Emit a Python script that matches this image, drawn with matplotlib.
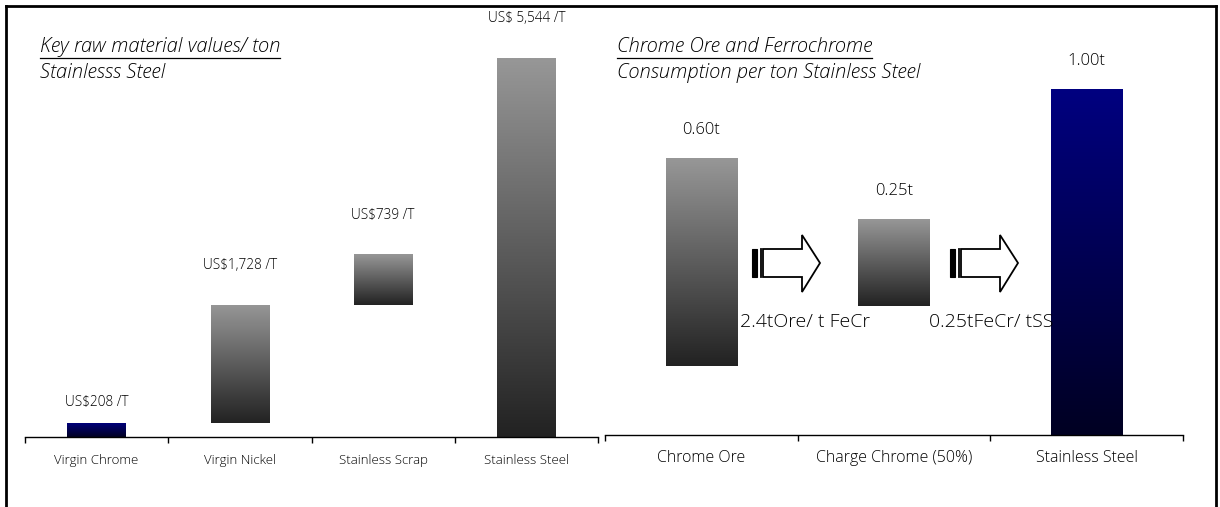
import numpy as np
import matplotlib
matplotlib.use("Agg")
import matplotlib.pyplot as plt
from matplotlib.colors import LinearSegmentedColormap
from matplotlib.patches import Polygon
from matplotlib.lines import Line2D

plt.rcParams['font.family'] = ['Open Sans', 'DejaVu Sans']
plt.rcParams['font.weight'] = 'light'

# raw material values per ton of stainless steel (US$/t)
materials = ["Virgin Chrome", "Virgin Nickel", "Stainless Scrap", "Stainless Steel"]
material_value = [208, 1728, 739, 5544]
material_base = [0, 208, 1936, 0]
material_label = ["US$208 /T", "US$1,728 /T", "US$739 /T", "US$ 5,544 /T"]
material_style = ["blue", "grey", "grey", "grey"]

# chrome units consumed per ton of stainless steel (t)
stages = ["Chrome Ore", "Charge Chrome (50%)", "Stainless Steel"]
stage_value = [0.60, 0.25, 1.00]
stage_base = [0.20, 0.373, 0.0]
stage_label = ["0.60t", "0.25t", "1.00t"]
stage_style = ["grey", "grey", "blue"]
ratio_text = ["2.4tOre/ t FeCr", "0.25tFeCr/ tSS"]

W, H = 1220, 507
INK = "#000000"
fig = plt.figure(figsize=(W / 100, H / 100), dpi=100)

cmaps = {
    "grey": LinearSegmentedColormap.from_list("g", ["#222222", "#979797"]),
    "blue": LinearSegmentedColormap.from_list("b", ["#000022", "#000080"]),
}


def px_rect(x0, x1, y_base, y_top):
    # figure-fraction rectangle from pixel edges (y measured from the top)
    return [x0 / W, (H - y_base) / H, (x1 - x0) / W, (y_base - y_top) / H]


def gradient_bars(ax, values, bases, styles, width):
    xs = np.arange(len(values))
    bars = ax.bar(xs, values, width=width, bottom=bases, color="none",
                  edgecolor="none", zorder=2)
    grad = np.linspace(0, 1, 256).reshape(-1, 1)
    for b, st in zip(bars, styles):
        x0, y0 = b.get_x(), b.get_y()
        im = ax.imshow(grad, extent=[x0, x0 + b.get_width(), y0, y0 + b.get_height()],
                       origin="lower", aspect="auto", cmap=cmaps[st], zorder=2,
                       interpolation="bilinear")
        im.set_clip_path(b)
    return bars


def style_axis(ax, cats, fs, pad):
    n = len(cats)
    for s in ["top", "right", "left"]:
        ax.spines[s].set_visible(False)
    ax.spines["bottom"].set_linewidth(1.0)
    ax.set_yticks([])
    ax.set_xlim(-0.5, n - 0.5)
    ax.set_xticks(np.arange(n))
    ax.set_xticklabels(cats, fontsize=fs, color=INK)
    ax.tick_params(axis="x", which="major", length=0, pad=pad)
    ax.set_xticks(np.arange(n + 1) - 0.5, minor=True)
    ax.tick_params(axis="x", which="minor", length=4, width=1, direction="out")
    ax.patch.set_alpha(0)


def underlined_title(x, y, line1, line2, fs):
    t = fig.text(x / W, 1 - y / H, line1, fontsize=fs, style="italic",
                 color=INK, va="baseline")
    fig.canvas.draw()
    bb = t.get_window_extent()
    uy = bb.y0 - 1
    fig.add_artist(Line2D([bb.x0 / W, bb.x1 / W], [uy / H, uy / H], color=INK, lw=0.9))
    fig.text(x / W, 1 - (y + 26) / H, line2, fontsize=fs, style="italic",
             color=INK, va="baseline")


# left panel: value build-up
axL = fig.add_axes(px_rect(25, 598, 437, 7))
gradient_bars(axL, material_value, material_base, material_style, 0.41)
scaleL = (437 - 58) / material_value[3]
axL.set_ylim(0, (437 - 7) / scaleL)
style_axis(axL, materials, 9.5, 12)
for i, (v, b, lab) in enumerate(zip(material_value, material_base, material_label)):
    off = 20 if i == 0 else 39
    axL.annotate(lab, (i, v + b), xytext=(0, off * 0.72), textcoords="offset points",
                 ha="center", va="center", fontsize=9.8, color=INK)

# right panel: chrome consumption
axR = fig.add_axes(px_rect(605, 1183, 435, 7))
gradient_bars(axR, stage_value, stage_base, stage_style, 0.37)
scaleR = 435 - 89
axR.set_ylim(0, (435 - 7) / scaleR)
style_axis(axR, stages, 11.5, 11)
for i, (v, b, lab) in enumerate(zip(stage_value, stage_base, stage_label)):
    axR.annotate(lab, (i, v + b), xytext=(0, 28 * 0.72), textcoords="offset points",
                 ha="center", va="center", fontsize=12, color=INK)

underlined_title(40, 52, "Key raw material values/ ton", "Stainlesss Steel", 14.5)
underlined_title(617, 52, "Chrome Ore and Ferrochrome", "Consumption per ton Stainless Steel", 14.5)


# block arrows between the stages
def block_arrow(x):
    body = [(763, 249), (802, 249), (802, 235), (820, 263), (802, 292),
            (802, 277), (763, 277)]
    pts = [((px - 752 + x) / W, 1 - py / H) for px, py in body]
    fig.add_artist(Polygon(pts, closed=True, facecolor="white", edgecolor="black", lw=1.3))
    fig.add_artist(Polygon([((x) / W, 1 - 249 / H), ((x + 5) / W, 1 - 249 / H),
                            ((x + 5) / W, 1 - 277 / H), ((x) / W, 1 - 277 / H)],
                           closed=True, facecolor="black", edgecolor="black", lw=0.8))
    fig.add_artist(Line2D([(x + 8.5) / W] * 2, [1 - 249 / H, 1 - 277 / H], color="black", lw=1.3))


for ax_x in [752, 950]:
    block_arrow(ax_x)

for tx, txt in zip([740, 929], ratio_text):
    fig.text(tx / W, 1 - 322 / H, txt, fontsize=14, color=INK, va="center",
             ha="left", zorder=5)

# outer frame
for xs, ys in [([6, 6], [6, 520]), ([6, 1216], [6, 6]), ([1216, 1216], [6, 520])]:
    fig.add_artist(Line2D([x / W for x in xs], [1 - y / H for y in ys], color="black", lw=2))

fig.savefig("out.png", dpi=100)
